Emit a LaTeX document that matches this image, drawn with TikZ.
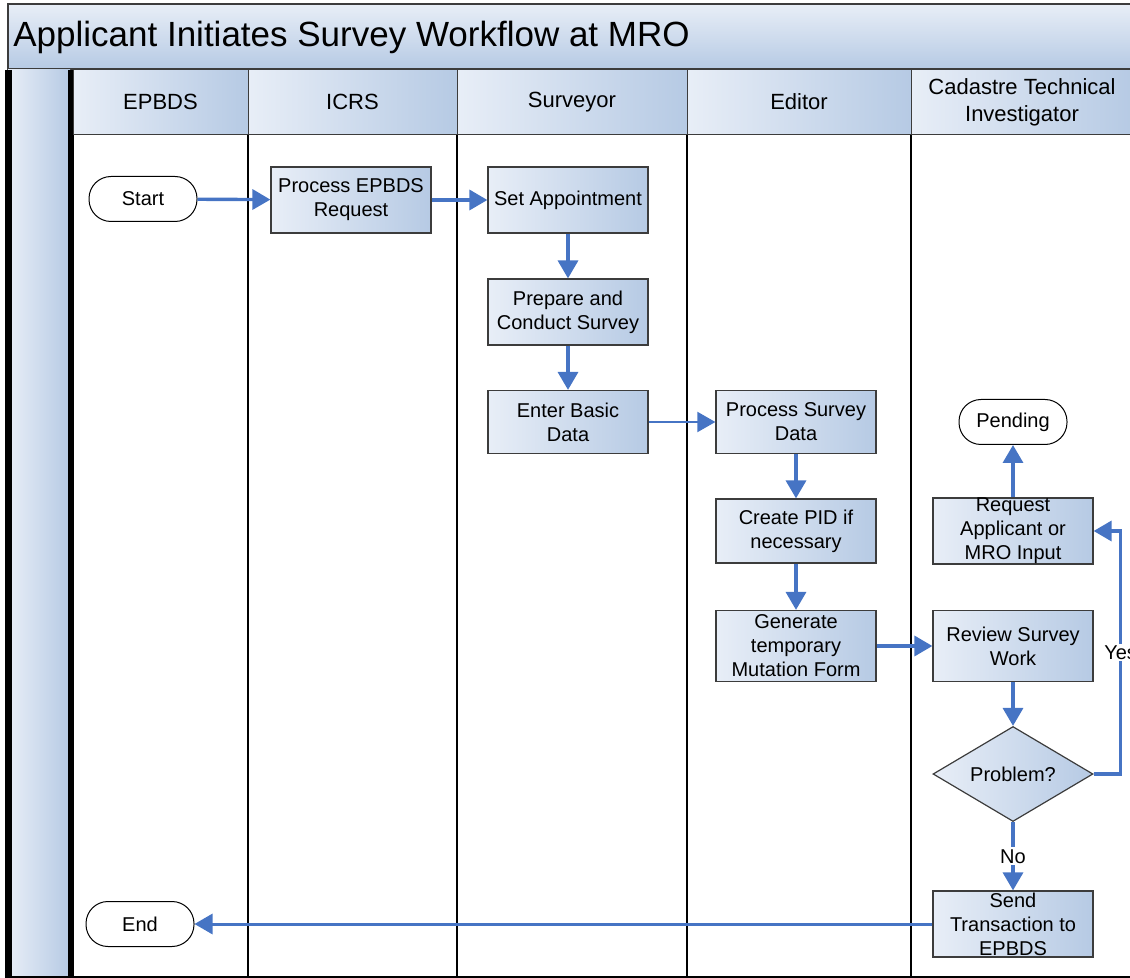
\documentclass[tikz,border=0pt]{standalone}
\usepackage{fontspec}
\setmainfont{Liberation Sans}
\usetikzlibrary{arrows.meta,shapes.geometric}

\definecolor{flowblue}{RGB}{70,116,196}
\definecolor{boxlight}{RGB}{232,238,247}
\definecolor{boxdark}{RGB}{182,202,228}
\definecolor{edgegray}{RGB}{60,60,60}

\tikzset{
  proc/.style={draw=edgegray, line width=0.6pt, left color=boxlight, right color=boxdark,
    minimum width=80pt, minimum height=33pt, inner sep=0pt, align=center,
    font=\fontsize{10}{12}\selectfont},
  term/.style={draw=black, line width=0.5pt, fill=white, rounded corners=11pt,
    minimum width=54pt, minimum height=22.5pt, inner sep=0pt,
    font=\fontsize{10}{12}\selectfont},
  decide/.style={diamond, draw=edgegray, line width=0.6pt, left color=boxlight, right color=boxdark,
    minimum width=80pt, minimum height=47.5pt, inner sep=0pt, aspect=1.7,
    font=\fontsize{10}{12}\selectfont},
  flow/.style={draw=flowblue, line width=1.7pt, -{Triangle[length=9pt,width=10pt]}},
  flowlabel/.style={fill=white, inner sep=1pt, font=\fontsize{10}{12}\selectfont},
  lanehead/.style={draw=edgegray, line width=0.5pt, left color=boxlight, right color=boxdark}
}

\begin{document}
\begin{tikzpicture}[x=0.5pt,y=-0.5pt]
\useasboundingbox (0,0) rectangle (1130,978);
\clip (0,0) rectangle (1130,978);

% title band
\path[draw=edgegray, line width=1pt, top color=boxlight, bottom color=boxdark] (8,4) rectangle (1150,69);
\node[anchor=west, inner sep=0pt, font=\fontsize{17.5}{21}\selectfont] (title) at (13,37) {Applicant Initiates Survey Workflow at MRO};

% left bar
\path[left color=boxlight, right color=boxdark] (8,70) rectangle (70,978);
\draw[line width=3.5pt] (8,70) -- (8,978);
\draw[line width=3pt] (70.5,70) -- (70.5,978);
\draw[line width=1pt] (8,977) -- (1150,977);

% lanes
\foreach \xa/\xb/\lname in {73/248/EPBDS, 248/457/ICRS, 457/687/Surveyor, 687/911/Editor,
    911/1133/{Cadastre Technical\\Investigator}} {
  \path[lanehead] (\xa,70) rectangle (\xb,135);
  \node[align=center, font=\fontsize{11}{13.5}\selectfont] at ({(\xa+\xb)/2},102) {\lname};
}
\foreach \x in {248,457,687,911}
  \draw[line width=0.6pt] (\x,135) -- (\x,978);

% steps
\node[term] (start) at (143,199) {Start};
\node[proc] (epbdsreq) at (351,200) {Process EPBDS\\Request};
\node[proc] (setappt) at (568,200) {Set Appointment};
\node[proc] (conduct) at (568,312) {Prepare and\\Conduct Survey};
\node[proc, minimum height=31.5pt] (basicdata) at (568,422) {Enter Basic\\Data};
\node[proc, minimum height=31.5pt] (procdata) at (796,422) {Process Survey\\Data};
\node[proc, minimum height=32pt] (createpid) at (796,531) {Create PID if\\necessary};
\node[proc, minimum height=35.5pt] (mutform) at (796,646) {Generate\\temporary\\Mutation Form};
\node[term] (pending) at (1013,422) {Pending};
\node[proc, minimum height=32pt] (request) at (1013,531) {Request\\Applicant or\\MRO Input};
\node[proc, minimum height=35.5pt] (review) at (1013,646) {Review Survey\\Work};
\node[decide] (problem) at (1013,774) {Problem?};
\node[proc] (sendtx) at (1013,924) {Send\\Transaction to\\EPBDS};
\node[term] (finish) at (140,924) {End};

% flow
\draw[flow] (start) -- (epbdsreq);
\draw[flow] (epbdsreq) -- (setappt);
\draw[flow] (setappt) -- (conduct);
\draw[flow] (conduct) -- (basicdata);
\draw[flow, line width=1pt] (basicdata) -- (procdata);
\draw[flow] (procdata) -- (createpid);
\draw[flow] (createpid) -- (mutform);
\draw[flow] (mutform) -- (review);
\draw[flow] (review) -- (problem);
\draw[flow] (request) -- (pending);
\draw[flow] (problem.east) -- ++(27,0) |- node[flowlabel, pos=0.25] {Yes} (request.east);
\draw[flow] (problem.south) -- node[flowlabel] {No} (sendtx.north);
\draw[flow, line width=1.5pt] (sendtx) -- (finish);
\end{tikzpicture}
\end{document}
